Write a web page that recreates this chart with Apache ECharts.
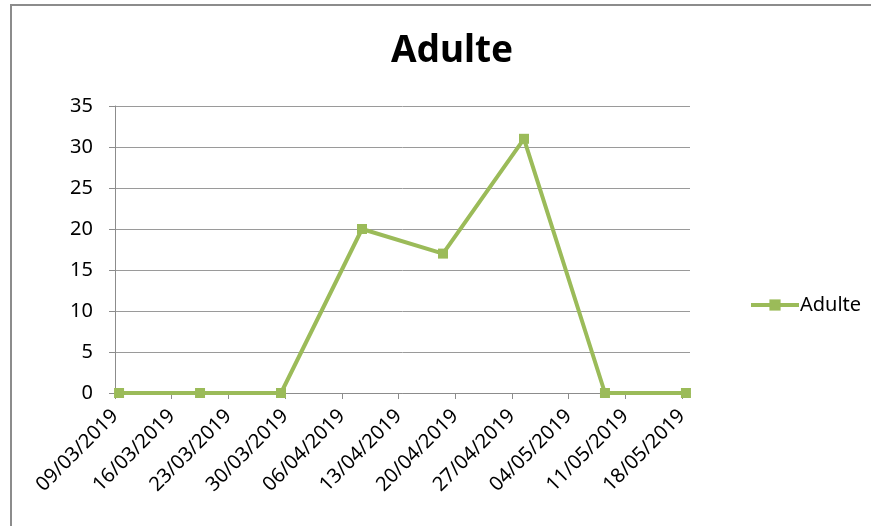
<!DOCTYPE html>
<html>
<head>
<meta charset="utf-8">
<script src="https://cdn.jsdelivr.net/npm/echarts@6/dist/echarts.min.js"></script>
<style>
  html, body { margin: 0; padding: 0; background: #fff; }
  #frame {
    position: absolute; left: 10px; top: 4px; width: 900px; height: 560px;
    border-left: 2px solid #8c8c8c; border-top: 2px solid #8c8c8c;
  }
  #chart { position: absolute; left: 0; top: 0; width: 871px; height: 526px; }
</style>
</head>
<body>
<div id="frame"></div>
<div id="chart"></div>
<script>
const seriesName = 'Adulte'
const pointDates = ['09/03/2019', '19/03/2019', '29/03/2019', '08/04/2019',
  '18/04/2019', '28/04/2019', '08/05/2019', '18/05/2019']
const adulteValues = [0, 0, 0, 20, 17, 31, 0, 0]
const tickLabels = ['09/03/2019', '16/03/2019', '23/03/2019', '30/03/2019', '06/04/2019',
  '13/04/2019', '20/04/2019', '27/04/2019', '04/05/2019', '11/05/2019', '18/05/2019']
const yTicks = [0, 5, 10, 15, 20, 25, 30, 35]

const green = '#9bbb59'
const axisGray = '#8c8c8c'
const font = 'Noto Sans'

const toDay = (s) => {
  const [d, m, y] = s.split('/').map(Number)
  return Date.UTC(y, m - 1, d) / 86400000
}
const day0 = toDay(tickLabels[0])
const tickDays = tickLabels.map(s => toDay(s) - day0)
const labelOf = {}
tickLabels.forEach((s, i) => { labelOf[tickDays[i]] = s })

// Excel date axis: points sit in the middle of their day
const points = pointDates.map((s, i) => [toDay(s) - day0 + 0.5, adulteValues[i]])

const chart = echarts.init(document.getElementById('chart'))
chart.setOption({
  backgroundColor: 'transparent',
  animation: false,
  title: {
    text: 'Adulte',
    left: 386,
    top: 28,
    textStyle: { fontFamily: font, fontSize: 37, fontWeight: 'bold', color: '#000' },
  },
  legend: {
    left: 744,
    top: 290,
    itemWidth: 48,
    itemHeight: 14,
    itemGap: 4,
    lineStyle: { width: 4 },
    textStyle: { fontFamily: font, fontSize: 20, color: '#000', padding: [0, 0, 0, -4] },
    data: [{ name: seriesName }],
  },
  grid: { left: 115, right: 181, top: 106, bottom: 133, containLabel: false },
  xAxis: {
    type: 'value',
    min: 0,
    max: tickDays[tickDays.length - 1] + 1,
    interval: 7,
    splitLine: { show: false },
    axisLine: { show: true, lineStyle: { color: axisGray, width: 1 } },
    axisTick: { show: true, length: 6, lineStyle: { color: axisGray }, customValues: tickDays },
    axisLabel: {
      customValues: tickDays,
      rotate: 45,
      margin: 20,
      fontFamily: font,
      fontSize: 20,
      color: '#000',
      formatter: (v) => labelOf[v] || '',
    },
  },
  yAxis: {
    type: 'value',
    min: yTicks[0],
    max: yTicks[yTicks.length - 1],
    interval: 5,
    axisLine: { show: true, lineStyle: { color: axisGray, width: 1 } },
    axisTick: { show: true, length: 6, lineStyle: { color: axisGray } },
    splitLine: { show: true, lineStyle: { color: '#9a9a9a', width: 1 } },
    axisLabel: { margin: 22, fontFamily: font, fontSize: 20, color: '#000' },
  },
  series: [
    {
      name: seriesName,
      type: 'line',
      data: points,
      symbol: 'rect',
      symbolSize: 10,
      lineStyle: { color: green, width: 4 },
      itemStyle: { color: green },
    },
  ],
})
</script>
</body>
</html>
